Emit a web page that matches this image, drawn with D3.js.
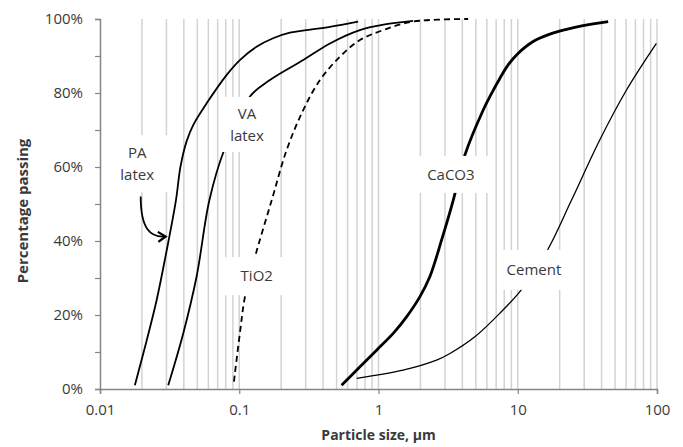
<!DOCTYPE html>
<html>
<head>
<meta charset="utf-8">
<script src="https://cdn.jsdelivr.net/npm/d3@7"></script>
<style>
  body { margin: 0; background: #fff; }
  text { font-family: "Open Sans", sans-serif; fill: #3a3a3a; }
</style>
</head>
<body>
<div id="chart"></div>
<script>
// Data: [particle size (um), percent passing]
var paLatex = [[0.0178,1],[0.0216,13],[0.0255,24],[0.0296,36],[0.0351,51],[0.0378,60],[0.0419,67],
  [0.0468,71.4],[0.0583,77.2],[0.0813,84.9],[0.101,88.9],[0.133,92.5],[0.175,94.8],[0.231,96.3],
  [0.305,97],[0.448,97.9],[0.714,99.3]];
var vaLatex = [[0.0309,1],[0.0396,15],[0.0494,30.4],[0.061,51],[0.0776,64.4],[0.119,79],[0.166,83.5],
  [0.288,88.9],[0.448,93.4],[0.735,97],[1.14,98.6],[1.77,99.5]];
var tio2 = [[0.0916,2],[0.101,15],[0.110,25],[0.130,35.8],[0.171,51],[0.219,64.6],[0.288,75.4],
  [0.380,83.5],[0.528,89.8],[0.735,94.3],[1.08,97],[1.77,99.3],[4.4,100]];
var caco3 = [[0.543,1],[0.736,6],[0.969,10.5],[1.28,15.1],[1.59,19.5],[1.98,24.9],[2.34,30.4],
  [2.84,40.3],[3.44,51],[4.17,63.2],[5.65,75.4],[6.49,79.9],[7.45,84],[8.53,87.6],[9.8,90.3],
  [12.9,93.9],[17,95.9],[22.4,97.2],[29.4,98.2],[44.6,99.3]];
var cement = [[0.697,2.9],[1.5,5.1],[2.61,7.8],[3.26,9.6],[4.92,14.1],[7.45,20.5],[10.6,26.8],
  [16.1,37.1],[24.3,51],[38.8,67.3],[60.4,80.8],[99,93.4]];

var xTicks = [0.01, 0.1, 1, 10, 100];
var xTickLabels = ["0.01", "0.1", "1", "10", "100"];
var yTicks = [0, 20, 40, 60, 80, 100];

// Data labels (centre in data units) and the pointer arrow for PA latex
var labels = [
  { lines: ["PA", "latex"], x: 0.0191, y: 60.9, w: 62, h: 57 },
  { lines: ["VA", "latex"], x: 0.1175, y: 71.5, w: 60, h: 55 },
  { lines: ["TiO2"], x: 0.138, y: 30.5, w: 70, h: 38 },
  { lines: ["CaCO3"], x: 3.42, y: 58, w: 76, h: 37 },
  { lines: ["Cement"], x: 13.5, y: 32.2, w: 72, h: 40 }
];
var arrowPts = [[0.0196, 52], [0.0196, 43], [0.0232, 41], [0.0290, 41.2]];

// Constants:
var width = 683, height = 447;
var plot = { left: 100, right: 657, top: 19, bottom: 389 };

var svg = d3.select("#chart").append("svg")
  .attr("width", width)
  .attr("height", height);

var x = d3.scaleLog().domain([0.01, 100]).range([plot.left, plot.right]);
var y = d3.scaleLinear().domain([0, 100]).range([plot.bottom, plot.top]);

// Vertical minor gridlines at 1..9 x 10^k
var grid = [];
[0.01, 0.1, 1, 10].forEach(function(d) {
  for (var k = 1; k <= 9; k++) grid.push(d * k);
});
grid.push(100);
grid = grid.filter(function(d) { return d > 0.0101; });

svg.append("g").selectAll("line")
  .data(grid)
  .enter().append("line")
  .attr("x1", function(d) { return x(d); })
  .attr("x2", function(d) { return x(d); })
  .attr("y1", y(0))
  .attr("y2", y(100))
  .attr("stroke", "#d3d3d3")
  .attr("stroke-width", 1.5);

// Curves (smoothed like the spreadsheet lines)
var line = d3.line()
  .x(function(d) { return x(d[0]); })
  .y(function(d) { return y(d[1]); })
  .curve(d3.curveCatmullRom.alpha(0.5));

var series = [
  { data: paLatex, w: 1.8, dash: null },
  { data: vaLatex, w: 1.8, dash: null },
  { data: tio2, w: 1.8, dash: "6,4" },
  { data: caco3, w: 2.8, dash: null },
  { data: cement, w: 1.3, dash: null }
];
svg.append("g").selectAll("path")
  .data(series)
  .enter().append("path")
  .attr("d", function(d) { return line(d.data); })
  .attr("fill", "none")
  .attr("stroke", "#000")
  .attr("stroke-width", function(d) { return d.w; })
  .attr("stroke-dasharray", function(d) { return d.dash; });

// Axes
var yAxis = d3.axisLeft(y)
  .tickValues(d3.range(0, 101, 10))
  .tickSize(5)
  .tickFormat(function(d) { return yTicks.indexOf(d) >= 0 ? d + "%" : ""; });
var gy = svg.append("g")
  .attr("transform", "translate(" + plot.left + ",0)")
  .call(yAxis);
gy.select(".domain").attr("stroke", "#858585").attr("stroke-width", 1.5);
gy.selectAll(".tick line").attr("stroke", "#858585").attr("stroke-width", 1.2);
gy.selectAll(".tick text").attr("x", -17).style("font-size", "15px").style("font-family", "Open Sans").attr("fill", "#3a3a3a");

var xAxis = d3.axisBottom(x)
  .tickValues(xTicks)
  .tickSize(5)
  .tickFormat(function(d, i) { return xTickLabels[i]; });
var gx = svg.append("g")
  .attr("transform", "translate(0," + plot.bottom + ")")
  .call(xAxis);
gx.select(".domain").attr("stroke", "#858585").attr("stroke-width", 1.5);
gx.selectAll(".tick line").attr("stroke", "#858585").attr("stroke-width", 1.2);
gx.selectAll(".tick text").attr("y", 15).style("font-size", "15px").style("font-family", "Open Sans").attr("fill", "#3a3a3a");

// Labels with white boxes
var lab = svg.append("g").selectAll("g")
  .data(labels)
  .enter().append("g")
  .attr("transform", function(d) { return "translate(" + x(d.x) + "," + y(d.y) + ")"; });
lab.append("rect")
  .attr("x", function(d) { return -d.w / 2; })
  .attr("y", function(d) { return -d.h / 2; })
  .attr("width", function(d) { return d.w; })
  .attr("height", function(d) { return d.h; })
  .attr("fill", "#fff");
lab.each(function(d) {
  var g = d3.select(this);
  var n = d.lines.length;
  d.lines.forEach(function(t, i) {
    g.append("text")
      .attr("x", -2)
      .attr("y", (i - (n - 1) / 2) * 22)
      .attr("dy", "0.35em")
      .attr("text-anchor", "middle")
      .style("font-size", "15px")
      .text(t);
  });
});

// Arrow
svg.append("defs").append("marker")
  .attr("id", "arrow")
  .attr("viewBox", "0 0 10 10")
  .attr("refX", 6).attr("refY", 5)
  .attr("markerWidth", 7).attr("markerHeight", 7)
  .attr("orient", "auto")
  .append("path")
  .attr("d", "M1,1 L7,5 L1,9")
  .attr("fill", "none")
  .attr("stroke", "#000")
  .attr("stroke-width", 1.8);

var a = arrowPts.map(function(p) { return [x(p[0]), y(p[1])]; });
svg.append("path")
  .attr("d", "M" + a[0] + " C" + a[1] + " " + a[2] + " " + a[3])
  .attr("fill", "none")
  .attr("stroke", "#000")
  .attr("stroke-width", 1.8)
  .attr("marker-end", "url(#arrow)");

// Axis titles
svg.append("text")
  .attr("x", (plot.left + plot.right) / 2)
  .attr("y", 435)
  .attr("dy", "0.35em")
  .attr("text-anchor", "middle")
  .style("font-size", "14px")
  .style("font-weight", "bold")
  .text("Particle size, µm");

svg.append("text")
  .attr("transform", "translate(23,211) rotate(-90)")
  .attr("dy", "0.35em")
  .attr("text-anchor", "middle")
  .style("font-size", "15px")
  .style("font-weight", "bold")
  .text("Percentage passing");
</script>
</body>
</html>
